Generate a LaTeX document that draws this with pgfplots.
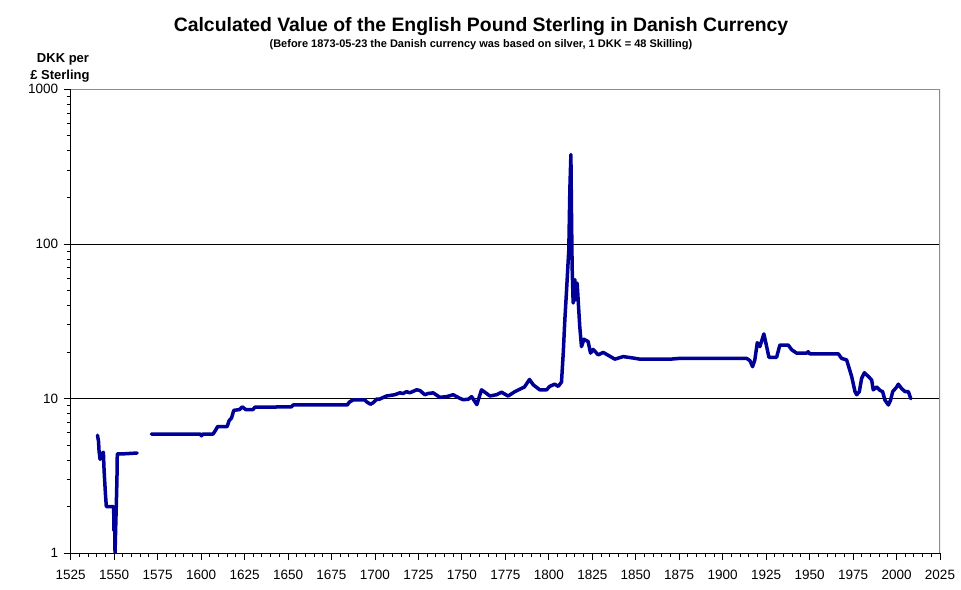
\documentclass[border=0pt]{standalone}
\usepackage{pgfplots}
\pgfplotsset{compat=1.18}
\usepackage{fontspec}
\setmainfont{Liberation Sans}
\definecolor{linecol}{RGB}{0,0,150}
\definecolor{framegray}{RGB}{140,140,140}
\begin{document}
\begin{tikzpicture}
\useasboundingbox (0pt,0pt) rectangle (961pt,589pt);
\node[font=\bfseries\fontsize{19.4}{22}\selectfont, anchor=base] at (481pt,557pt) {Calculated Value of the English Pound Sterling in Danish Currency};
\node[font=\bfseries\fontsize{11}{12}\selectfont, anchor=base, xscale=1.0] at (481pt,541pt) {(Before 1873-05-23 the Danish currency was based on silver, 1 DKK = 48 Skilling)};
\node[font=\bfseries\fontsize{13}{14}\selectfont, anchor=base] at (63pt,526pt) {DKK per};
\node[font=\bfseries\fontsize{13}{14}\selectfont, anchor=base] at (60pt,509pt) {£ Sterling};
\begin{axis}[
  at={(70.7pt,35.7pt)}, anchor=south west,
  scale only axis, width=869.3pt, height=464pt,
  xmin=1525, xmax=2025,
  xtick={1525,1550,...,2025}, minor x tick num=4,
  ymode=log, ymin=1, ymax=1000,
  ytick={1,10,100,1000},
  minor ytick={2,3,4,5,6,7,8,9,20,30,40,50,60,70,80,90,200,300,400,500,600,700,800,900},
  log ticks with fixed point,
  /pgf/number format/1000 sep={},
  /pgf/number format/assume math mode=true,
  tick label style={font=\fontsize{13.5}{15}\selectfont, text=black},
  xticklabel style={yshift=-6pt},
  yticklabel style={xshift=-2pt},
  axis lines*=left,
  axis line style={black, line width=0.9pt, -},
  tick align=outside,
  major tick length=7pt, minor tick length=4pt,
  every tick/.style={black, line width=0.9pt},
  ymajorgrids, major grid style={black, line width=0.9pt},
  clip=true,
]
\addplot[linecol, line width=3.5pt, line join=round, line cap=round] coordinates {
(1540.4,5.8) (1541.0,5.3) (1541.3,4.6) (1541.9,4.05) (1543.0,4.4) (1543.8,4.5)
(1544.2,3.44) (1545.0,2.4) (1545.5,2.0) (1549.7,2.0) (1549.9,1.4) (1550.2,1.8)
(1550.5,1.0) (1550.9,1.5) (1551.3,2.2) (1551.6,3.0) (1551.8,4.4) (1556,4.4) (1563.2,4.45)
};
\addplot[linecol, line width=3.5pt, line join=round, line cap=round] coordinates {
(1571.4,5.9) (1599.5,5.9) (1600.2,5.75) (1601,5.9) (1606.9,5.9) (1608.5,6.3)
(1609.5,6.6) (1615,6.6) (1616.1,7.2) (1617.5,7.5) (1618.8,8.4) (1622.2,8.5)
(1623.6,8.85) (1625.7,8.5) (1629.9,8.5) (1630.9,8.8) (1652,8.85) (1652.9,9.1)
(1684,9.1) (1685.5,9.55) (1687.4,9.8) (1694.2,9.8) (1695.1,9.55) (1697.4,9.2)
(1698.9,9.4) (1701.3,10.0) (1702,9.85) (1706.6,10.4) (1711.4,10.6) (1714.3,10.9)
(1716.2,10.8) (1718.2,11.1) (1720,10.9) (1723.9,11.4) (1725.8,11.3) (1728.7,10.6)
(1730.6,10.8) (1733.5,10.9) (1737.3,10.2) (1741.2,10.3) (1745,10.6) (1748.8,10.05)
(1750.7,9.85) (1753.6,9.9) (1755.6,10.3) (1758.6,9.15) (1761.3,11.4) (1764.2,10.8)
(1766.1,10.4) (1769.9,10.6) (1772.8,11.0) (1776.6,10.4) (1780.5,11.1) (1783.3,11.5)
(1786,11.9) (1788.9,13.3) (1791,12.3) (1794.8,11.4) (1798.7,11.4) (1800.5,12.0)
(1803.4,12.4) (1805.4,12.0) (1807.3,12.8) (1808.3,19.7) (1809.2,32) (1810.2,50)
(1811.5,92) (1812.1,225) (1812.7,379) (1813,175) (1813.4,72) (1814,41.5)
(1815,58.8) (1815.5,43.5) (1816.3,55.8) (1817.8,29.2) (1818.8,21.7) (1820.2,24.2)
(1822.6,23.4) (1824,19.7) (1825.5,20.8) (1828.4,19.2) (1831.3,19.9) (1838,18.0)
(1842.8,18.7) (1848.6,18.3) (1852.4,18.0) (1870,18.0) (1875,18.2) (1913.8,18.2)
(1915.7,17.6) (1917.2,16.1) (1918.5,17.8) (1919.9,23.0) (1921.4,21.7) (1923.7,26.2)
(1925.3,21.7) (1926.6,18.5) (1931,18.5) (1932.9,22.2) (1937.7,22.2) (1939.7,20.7)
(1942.5,19.7) (1948.3,19.7) (1949.2,20.1) (1950,19.5) (1966.5,19.5) (1968.4,18.2)
(1971.3,17.8) (1974.2,13.9) (1976.1,11.1) (1977.1,10.6) (1978.6,11.1) (1979.9,13.5)
(1981.5,14.7) (1983.8,13.9) (1985.7,13.2) (1986.6,11.4) (1988.6,11.9) (1990.5,11.3)
(1992,11.1) (1993.3,9.8) (1995.3,9.1) (1996.6,9.8) (1997.8,11.1) (2000.1,11.9)
(2001,12.4) (2003,11.6) (2004.9,11.1) (2006.8,11.1) (2008.2,10.0)
};
\draw[framegray, line width=1.5pt] (rel axis cs:0,1) -- (rel axis cs:1,1) -- (rel axis cs:1,0);
\end{axis}
\end{tikzpicture}
\end{document}
